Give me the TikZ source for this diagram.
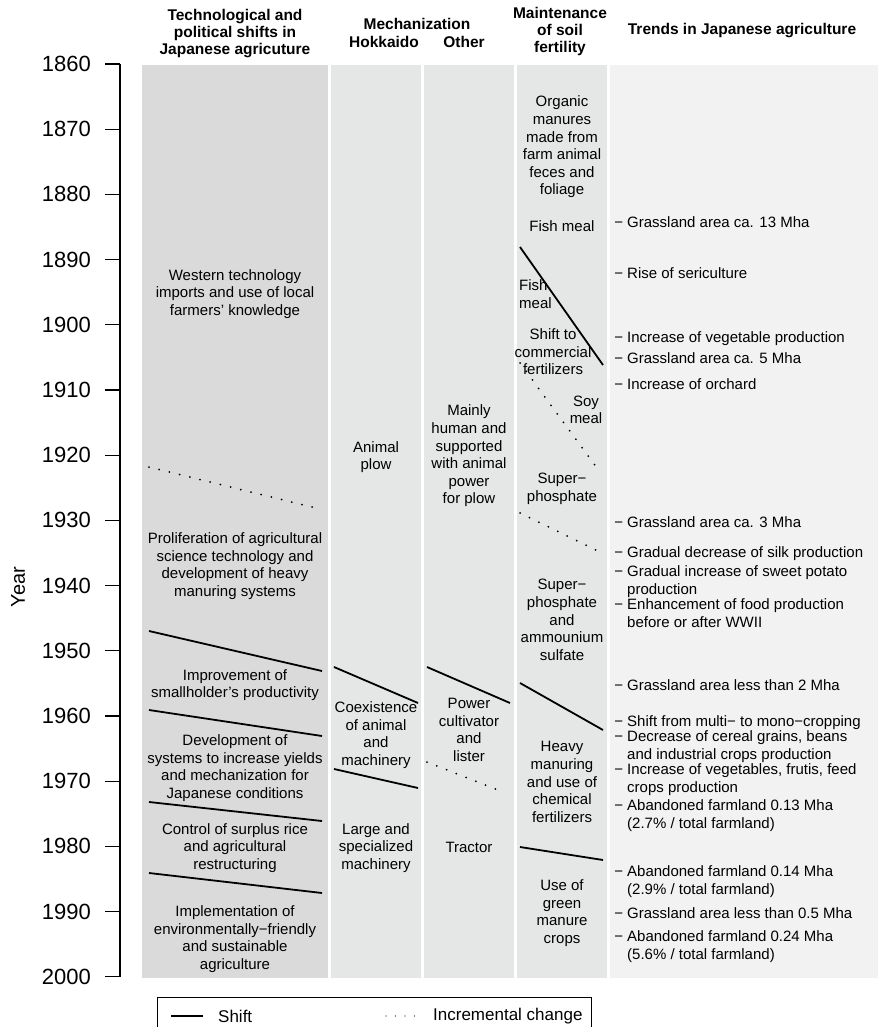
\documentclass[tikz,border=0pt]{standalone}
\usepackage{fontspec}
\setmainfont{Liberation Sans}
\definecolor{techgrey}{RGB}{218, 218, 218}
\definecolor{mechgrey}{RGB}{229, 230, 230}
\definecolor{trendgrey}{RGB}{242, 242, 242}
\usetikzlibrary{positioning}

\begin{document}
\begin{tikzpicture}[x=1pt, y=-1pt,
  colhead/.style={align=center, font=\fontsize{15.5}{17}\selectfont\bfseries, inner sep=0pt},
  cell/.style={align=center, font=\fontsize{15}{17.6}\selectfont, inner sep=0pt},
  trend/.style={align=left, anchor=north west, font=\fontsize{15}{17.6}\selectfont, inner sep=0pt},
  yearlabel/.style={anchor=east, font=\fontsize{22}{24}\selectfont, inner sep=0pt},
  shiftline/.style={line width=1.8pt},
  incrline/.style={line width=2pt, line cap=round, dash pattern=on 0pt off 10.5pt}
]
  \useasboundingbox (0,0) rectangle (878,1027);

  % Columns
  \fill[techgrey] (142,65) rectangle (328,978);
  \fill[mechgrey] (331,65) rectangle (421,978);
  \fill[mechgrey] (424,65) rectangle (514,978);
  \fill[mechgrey] (517,65) rectangle (607,978);
  \fill[trendgrey] (610,65) rectangle (878,978);

  % Year axis
  \draw[line width=1.3pt] (120,64) -- (120,977);
  \foreach \yr in {1860,1870,...,2000} {
    \pgfmathsetmacro\yy{64+(\yr-1860)*6.52}
    \draw[line width=1.3pt] (105,\yy) -- (120,\yy);
    \node[yearlabel] (y\yr) at (91,\yy) {\yr};
  }
  \node[rotate=90, font=\fontsize{20}{22}\selectfont] (yaxis) at (18,587) {Year};

  % Headers
  \node[colhead] (htech) at (235,34) {Technological and\\political shifts in\\Japanese agricuture};
  \node[colhead] (hmech) at (417,24) {Mechanization};
  \node[colhead] (hhok) at (384,42) {Hokkaido};
  \node[colhead] (hoth) at (464,42) {Other};
  \node[colhead] (hsoil) at (560,31) {Maintenance\\of soil\\fertility};
  \node[colhead] (htrend) at (742,31) {Trends in Japanese agriculture};

  % Technological and political shifts
  \node[cell] (western) at (235,294) {Western technology\\imports and use of local\\farmers' knowledge};
  \node[cell] (prolif) at (235,566) {Proliferation of agricultural\\science technology and\\development of heavy\\manuring systems};
  \node[cell] (improve) at (235,685) {Improvement of\\smallholder's productivity};
  \node[cell] (develop) at (235,768) {Development of\\systems to increase yields\\and mechanization for\\Japanese conditions};
  \node[cell] (surplus) at (235,848) {Control of surplus rice\\and agricultural\\restructuring};
  \node[cell] (implement) at (235,939) {Implementation of\\environmentally−friendly\\and sustainable\\agriculture};
  \draw[incrline] (149,467) -- (316,508);
  \draw[shiftline] (149,631) -- (322,671);
  \draw[shiftline] (149,710) -- (322,736);
  \draw[shiftline] (149,802) -- (322,821);
  \draw[shiftline] (149,873) -- (322,893);

  % Mechanization, Hokkaido
  \node[cell] (animalplow) at (376,457) {Animal\\plow};
  \node[cell] (coexist) at (376,735) {Coexistence\\of animal\\and\\machinery};
  \node[cell] (large) at (376,848) {Large and\\specialized\\machinery};
  \draw[shiftline] (334,667) -- (418,703);
  \draw[shiftline] (334,769) -- (418,788);

  % Mechanization, other
  \node[cell] (human) at (469,456) {Mainly\\human and\\supported\\with animal\\power\\for plow};
  \node[cell] (power) at (469,730) {Power\\cultivator\\and\\lister};
  \node[cell] (tractor) at (469,847) {Tractor};
  \draw[shiftline] (427,667) -- (510,703);
  \draw[incrline] (427,762) -- (503,792);

  % Maintenance of soil fertility
  \node[cell] (organic) at (562,147) {Organic\\manures\\made from\\farm animal\\feces and\\foliage};
  \node[cell] (fishmeal) at (562,226) {Fish meal};
  \node[cell, align=left, anchor=west] (fishmeal2) at (519,294) {Fish\\meal};
  \node[cell] (commercial) at (553,352) {Shift to\\commercial\\fertilizers};
  \node[cell] (soymeal) at (586,410) {Soy\\meal};
  \node[cell] (superph) at (562,489) {Super−\\phosphate};
  \node[cell] (superam) at (562,620) {Super−\\phosphate\\and\\ammounium\\sulfate};
  \node[cell] (heavy) at (562,782) {Heavy\\manuring\\and use of\\chemical\\fertilizers};
  \node[cell] (green) at (562,913) {Use of\\green\\manure\\crops};
  \draw[shiftline] (520,247) -- (603,365);
  \draw[incrline] (520,363) -- (600,472);
  \draw[incrline] (520,513) -- (600,552);
  \draw[shiftline] (520,683) -- (603,730);
  \draw[shiftline] (520,847) -- (603,860);

  % Trends
  \node[trend] (t1) at (627,216.5) {\llap{− }Grassland area ca. 13 Mha};
  \node[trend] (t2) at (627,267.5) {\llap{− }Rise of sericulture};
  \node[trend] (t3) at (627,331.5) {\llap{− }Increase of vegetable production};
  \node[trend] (t4) at (627,352.5) {\llap{− }Grassland area ca. 5 Mha};
  \node[trend] (t5) at (627,378.5) {\llap{− }Increase of orchard};
  \node[trend] (t6) at (627,516.5) {\llap{− }Grassland area ca. 3 Mha};
  \node[trend] (t7) at (627,546.5) {\llap{− }Gradual decrease of silk production};
  \node[trend] (t8) at (627,565.5) {\llap{− }Gradual increase of sweet potato\\production};
  \node[trend] (t9) at (627,598.5) {\llap{− }Enhancement of food production\\before or after WWII};
  \node[trend] (t10) at (627,679.5) {\llap{− }Grassland area less than 2 Mha};
  \node[trend] (t11) at (627,715.5) {\llap{− }Shift from multi− to mono−cropping};
  \node[trend] (t12) at (627,730.5) {\llap{− }Decrease of cereal grains, beans\\and industrial crops production};
  \node[trend] (t13) at (627,763.5) {\llap{− }Increase of vegetables, frutis, feed\\crops production};
  \node[trend] (t14) at (627,799.5) {\llap{− }Abandoned farmland 0.13 Mha\\(2.7\% / total farmland)};
  \node[trend] (t15) at (627,865.5) {\llap{− }Abandoned farmland 0.14 Mha\\(2.9\% / total farmland)};
  \node[trend] (t16) at (627,907.5) {\llap{− }Grassland area less than 0.5 Mha};
  \node[trend] (t17) at (627,930.5) {\llap{− }Abandoned farmland 0.24 Mha\\(5.6\% / total farmland)};

  % Legend
  \draw[line width=1pt] (157,1045) -- (157,997) -- (591,997) -- (591,1045);
  \coordinate (lsa) at (171,1016);
  \coordinate (lsb) at (203,1016);
  \coordinate (lia) at (386,1016);
  \coordinate (lib) at (416,1016);
  \draw[shiftline] (lsa) -- (lsb);
  \draw[line width=1.4pt, line cap=round, dash pattern=on 0pt off 9.5pt] (lia) -- (lib);
  \node[anchor=west, inner sep=0pt, font=\fontsize{17}{19}\selectfont] (lshift) at (218,1016) {Shift};
  \node[anchor=west, inner sep=0pt, font=\fontsize{17}{19}\selectfont] (lincr) at (433,1016) {Incremental change};
\end{tikzpicture}
\end{document}
